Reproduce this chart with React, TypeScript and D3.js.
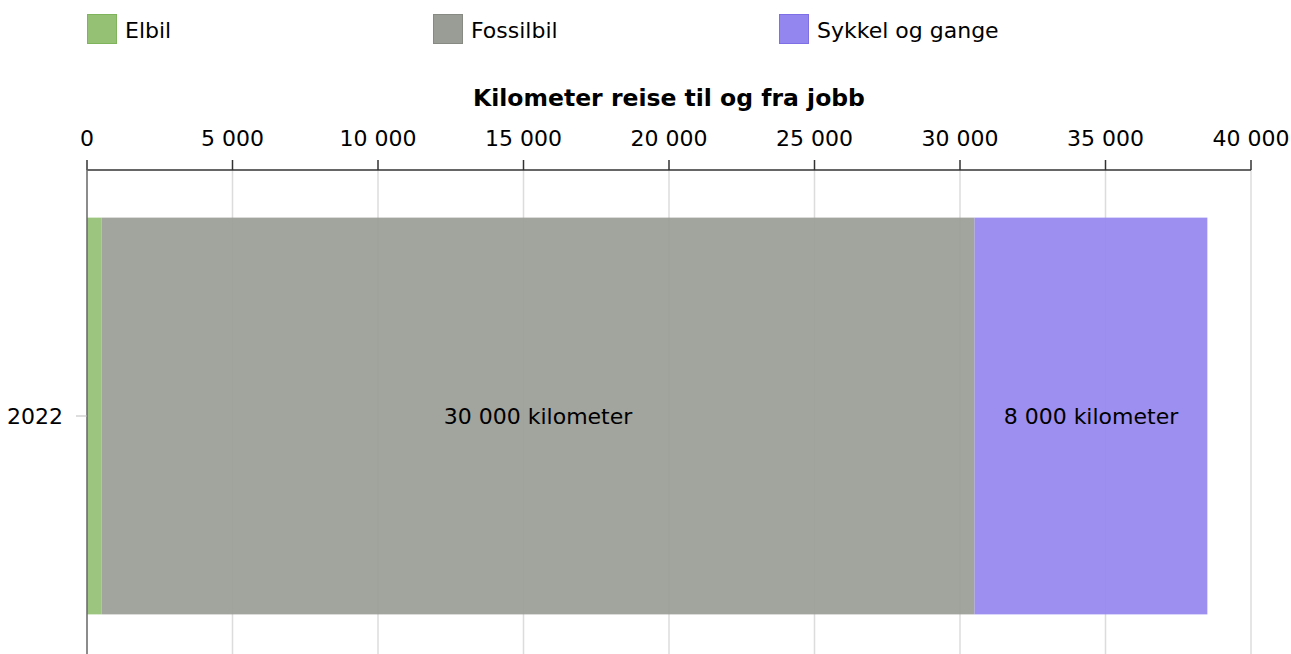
import React, { useEffect, useRef } from 'react';
import * as d3 from 'd3';

const years = ['2022'];
const seriesNames = ['Elbil', 'Fossilbil', 'Sykkel og gange'];
const elbil = [500];
const fossilbil = [30000];
const sykkel = [8000];
const xTicks = [0, 5000, 10000, 15000, 20000, 25000, 30000, 35000, 40000];
const colors = ['#94c174', '#9a9c96', '#9486ef'];
const legendStroke = ['#7fb35c', '#878a83', '#7e6fe6'];

const nb = d3.formatLocale({ decimal: ',', thousands: ' ', grouping: [3], currency: ['', ' kr'] });
const fmt = nb.format(',d');

const App: React.FC = () => {
  const svgRef = useRef<SVGSVGElement>(null);

  useEffect(() => {
    if (!svgRef.current) return;
    const W = 1291;
    const H = 654;
    const font = 'Verdana, "DejaVu Sans", sans-serif';
    const fs = 22;
    const svg = d3.select(svgRef.current);
    svg.selectAll('*').remove();
    svg.attr('width', W).attr('height', H).style('font-family', font);

    const margin = { top: 170, left: 87, right: 40 };
    const x = d3.scaleLinear().domain([0, 40000]).range([margin.left, W - margin.right]);
    const y = d3.scaleBand().domain(years).range([170, 662]).paddingInner(0).paddingOuter(0.12);

    // Legend
    const legend = svg.append('g')
      .selectAll('g')
      .data(seriesNames)
      .join('g')
      .attr('transform', (d, i) => `translate(${87 + i * 346},14)`);
    legend.append('rect')
      .attr('x', 0.5).attr('y', 0.5)
      .attr('width', 29).attr('height', 29)
      .attr('fill', (d, i) => colors[i])
      .attr('stroke', (d, i) => legendStroke[i])
      .attr('stroke-width', 1);
    legend.append('text')
      .attr('x', 38).attr('y', 24)
      .attr('font-size', fs)
      .attr('fill', '#000')
      .text(d => d);

    // Title
    svg.append('text')
      .attr('x', (x(0) + x(40000)) / 2)
      .attr('y', 106)
      .attr('text-anchor', 'middle')
      .attr('font-weight', 'bold')
      .attr('font-size', 23.5)
      .attr('fill', '#000')
      .text('Kilometer reise til og fra jobb');

    // Grid
    svg.append('g')
      .selectAll('line')
      .data(xTicks.slice(1))
      .join('line')
      .attr('x1', d => x(d)).attr('x2', d => x(d))
      .attr('y1', 170).attr('y2', H)
      .attr('stroke', '#dcdcdc')
      .attr('stroke-width', 1.5);

    // Top axis
    const ax = svg.append('g').attr('transform', 'translate(0,170)');
    ax.append('line')
      .attr('x1', x(0)).attr('x2', x(40000))
      .attr('stroke', '#333').attr('stroke-width', 1.5);
    ax.selectAll('line.tick')
      .data(xTicks)
      .join('line')
      .attr('class', 'tick')
      .attr('x1', d => x(d)).attr('x2', d => x(d))
      .attr('y1', -10).attr('y2', 0)
      .attr('stroke', '#333').attr('stroke-width', 1.5);
    ax.selectAll('text')
      .data(xTicks)
      .join('text')
      .attr('x', d => x(d))
      .attr('y', -24)
      .attr('text-anchor', 'middle')
      .attr('font-size', fs)
      .attr('fill', '#000')
      .text(d => fmt(d));

    // Stacked bars
    const rows = years.map((yr, i) => ({ year: yr, Elbil: elbil[i], Fossilbil: fossilbil[i], 'Sykkel og gange': sykkel[i] }));
    const stack = d3.stack<any>().keys(seriesNames)(rows);
    const layers = svg.append('g')
      .selectAll('g')
      .data(stack)
      .join('g')
      .attr('fill', (d, i) => colors[i])
      .attr('fill-opacity', 0.92);
    layers.selectAll('rect')
      .data(d => d)
      .join('rect')
      .attr('x', d => x(d[0]))
      .attr('width', d => x(d[1]) - x(d[0]))
      .attr('y', d => y(d.data.year)!)
      .attr('height', y.bandwidth());

    // Value labels
    stack.forEach(layer => {
      layer.forEach(d => {
        const w = x(d[1]) - x(d[0]);
        if (w < 200) return;
        svg.append('text')
          .attr('x', (x(d[0]) + x(d[1])) / 2)
          .attr('y', y(d.data.year)! + y.bandwidth() / 2)
          .attr('dy', '0.35em')
          .attr('text-anchor', 'middle')
          .attr('font-size', fs)
          .attr('fill', '#000')
          .text(`${fmt(d[1] - d[0])} kilometer`);
      });
    });

    // Left axis
    svg.append('line')
      .attr('x1', x(0)).attr('x2', x(0))
      .attr('y1', 163).attr('y2', H)
      .attr('stroke', '#666').attr('stroke-width', 1.5);
    years.forEach(yr => {
      const cy = y(yr)! + y.bandwidth() / 2;
      svg.append('line')
        .attr('x1', x(0) - 11).attr('x2', x(0))
        .attr('y1', cy).attr('y2', cy)
        .attr('stroke', '#bbb').attr('stroke-width', 1);
      svg.append('text')
        .attr('x', x(0) - 24)
        .attr('y', cy)
        .attr('dy', '0.35em')
        .attr('text-anchor', 'end')
        .attr('font-size', fs)
        .attr('fill', '#000')
        .text(yr);
    });
  }, []);

  return (
    <div style={{ width: 1291, height: 654, overflow: 'hidden', background: '#fff' }}>
      <style>{'body{margin:0}'}</style>
      <svg ref={svgRef} style={{ display: 'block' }}></svg>
    </div>
  );
};

export default App;
